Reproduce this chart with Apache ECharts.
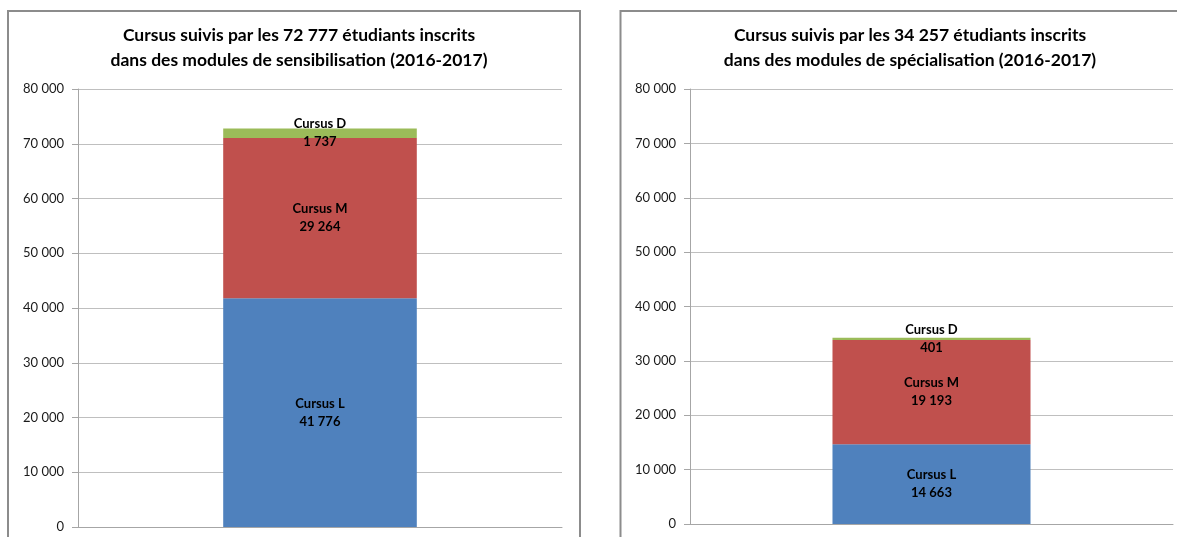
<!DOCTYPE html>
<html>
<head>
<meta charset="utf-8">
<script src="https://cdn.jsdelivr.net/npm/echarts@6/dist/echarts.min.js"></script>
<style>
  html, body { margin: 0; padding: 0; background: #ffffff; }
  #chart { width: 1177px; height: 537px; }
</style>
</head>
<body>
<div id="chart"></div>
<script>
// ---- Data ----
const categories = ['2016-2017'];
const seriesNames = ['Cursus L', 'Cursus M', 'Cursus D'];
const sensibilisationL = [41776];
const sensibilisationM = [29264];
const sensibilisationD = [1737];
const specialisationL = [14663];
const specialisationM = [19193];
const specialisationD = [401];
const titleSensibilisation = 'Cursus suivis par les 72 777 étudiants inscrits\ndans des modules de sensibilisation (2016-2017)';
const titleSpecialisation = 'Cursus suivis par les 34 257 étudiants inscrits\ndans des modules de spécialisation (2016-2017)';
const yMin = 0, yMax = 80000, yInterval = 10000;

// ---- Styling ----
const colors = ['#4F81BD', '#C0504D', '#9BBB59'];
const FONT = 'Lato, "Open Sans", sans-serif';
const fmt = v => String(v).replace(/\B(?=(\d{3})+(?!\d))/g, ' ');

const chart = echarts.init(document.getElementById('chart'), null, { renderer: 'canvas' });

function yAxisFor(gridIndex) {
  return {
    type: 'value', gridIndex, min: yMin, max: yMax, interval: yInterval,
    axisLine: { show: true, lineStyle: { color: '#a6a6a6', width: 1 } },
    axisTick: { show: true, length: 6, lineStyle: { color: '#a6a6a6' } },
    splitLine: { show: true, lineStyle: { color: '#bfbfbf', width: 1 } },
    axisLabel: { formatter: fmt, margin: 14, fontFamily: FONT, fontSize: 13, color: '#1a1a1a' }
  };
}
function xAxisFor(gridIndex) {
  return {
    type: 'category', gridIndex, data: categories,
    axisLine: { show: true, lineStyle: { color: '#a6a6a6' } },
    axisTick: { show: false }, axisLabel: { show: false }
  };
}
function barSeries(name, data, idx, stack, width, color) {
  return {
    type: 'bar', name, data, xAxisIndex: idx, yAxisIndex: idx, stack,
    barWidth: width, itemStyle: { color },
    label: {
      show: true, position: 'inside',
      formatter: p => p.seriesName + '\n' + fmt(p.value),
      fontFamily: FONT, fontSize: 13, fontWeight: 'bold', color: '#000', lineHeight: 18
    }
  };
}

const titleStyle = { fontFamily: FONT, fontSize: 17.5, fontWeight: 'bold', color: '#000', lineHeight: 25 };

chart.setOption({
  animation: false,
  title: [
    { text: titleSensibilisation, left: 294, top: 18, textAlign: 'center', textStyle: titleStyle },
    { text: titleSpecialisation, left: 905, top: 18, textAlign: 'center', textStyle: titleStyle }
  ],
  graphic: [
    { type: 'rect', shape: { x: 8, y: 11, width: 572, height: 600 }, style: { fill: 'none', stroke: '#8c8c8c', lineWidth: 2 }, z: 100 },
    { type: 'rect', shape: { x: 620.5, y: 11, width: 600, height: 600 }, style: { fill: 'none', stroke: '#8c8c8c', lineWidth: 2 }, z: 100 }
  ],
  grid: [
    { left: 78, right: 615, top: 89, bottom: 10 },
    { left: 690, right: 4, top: 89, bottom: 13 }
  ],
  xAxis: [xAxisFor(0), xAxisFor(1)],
  yAxis: [yAxisFor(0), yAxisFor(1)],
  series: [
    barSeries(seriesNames[0], sensibilisationL, 0, 'sens', '40%', colors[0]),
    barSeries(seriesNames[1], sensibilisationM, 0, 'sens', '40%', colors[1]),
    barSeries(seriesNames[2], sensibilisationD, 0, 'sens', '40%', colors[2]),
    barSeries(seriesNames[0], specialisationL, 1, 'spec', '41%', colors[0]),
    barSeries(seriesNames[1], specialisationM, 1, 'spec', '41%', colors[1]),
    barSeries(seriesNames[2], specialisationD, 1, 'spec', '41%', colors[2])
  ]
});
</script>
</body>
</html>
